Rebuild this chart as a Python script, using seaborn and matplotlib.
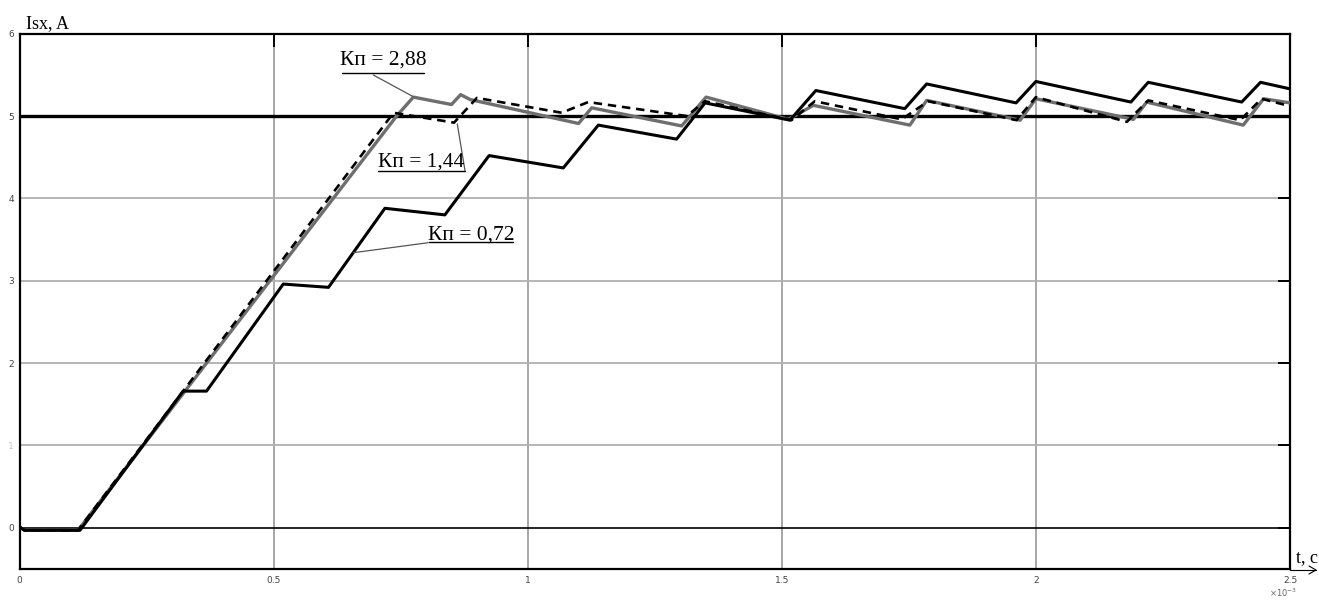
import numpy as np
import pandas as pd
import matplotlib
matplotlib.use("Agg")
import matplotlib.pyplot as plt
import seaborn as sns

# ---- data (t in units of 1e-3 s, current in A) ----
t_072 = [0.0, 0.010, 0.119, 0.322, 0.368, 0.519, 0.608, 0.719, 0.837, 0.924,
         1.070, 1.139, 1.293, 1.349, 1.516, 1.567, 1.742, 1.785, 1.961, 2.000,
         2.187, 2.221, 2.405, 2.442, 2.500]
i_072 = [0.01, -0.03, -0.03, 1.66, 1.66, 2.96, 2.92, 3.88, 3.80, 4.52,
         4.37, 4.89, 4.72, 5.16, 4.95, 5.31, 5.09, 5.39, 5.16, 5.42,
         5.17, 5.41, 5.17, 5.41, 5.33]

t_144 = [0.0, 0.010, 0.115, 0.736, 0.855, 0.900, 1.067, 1.119, 1.313, 1.349,
         1.519, 1.565, 1.736, 1.788, 1.962, 2.000, 2.179, 2.221, 2.402, 2.444,
         2.500]
i_144 = [0.01, -0.03, -0.03, 5.04, 4.92, 5.22, 5.04, 5.17, 5.00, 5.18,
         4.95, 5.18, 4.96, 5.18, 4.95, 5.23, 4.93, 5.19, 4.95, 5.21,
         5.12]

t_288 = [0.0, 0.010, 0.115, 0.742, 0.775, 0.850, 0.868, 0.887, 1.100, 1.126,
         1.303, 1.351, 1.513, 1.562, 1.752, 1.785, 1.969, 2.000, 2.192, 2.218,
         2.408, 2.448, 2.500]
i_288 = [0.01, -0.03, -0.03, 5.00, 5.23, 5.14, 5.26, 5.20, 4.91, 5.10,
         4.88, 5.23, 4.96, 5.13, 4.89, 5.19, 4.95, 5.21, 4.96, 5.17,
         4.89, 5.21, 5.16]

reference_level = 5.0
x_ticks = [0, 0.5, 1, 1.5, 2, 2.5]
x_tick_labels = ["0", "0.5", "1", "1.5", "2", "2.5"]
y_ticks = [0, 1, 2, 3, 4, 5, 6]
y_tick_labels = ["0", "1", "2", "3", "4", "5", "6"]
labels = ["Кп = 2,88", "Кп = 1,44", "Кп = 0,72"]

df = pd.concat([
    pd.DataFrame({"t": t_288, "i": i_288, "k": "2.88"}),
    pd.DataFrame({"t": t_144, "i": i_144, "k": "1.44"}),
    pd.DataFrame({"t": t_072, "i": i_072, "k": "0.72"}),
], ignore_index=True)

sns.set_style("white")
plt.rcParams["font.family"] = ["DejaVu Sans"]

fig = plt.figure(figsize=(13.19, 6.0), dpi=100)
ax = fig.add_axes([19.5 / 1319, 1 - 569 / 600, (1290 - 19.5) / 1319, (569 - 33.7) / 600])

# grid
for xv in [0.5, 1.0, 1.5, 2.0]:
    ax.axvline(xv, color="#a0a0a0", lw=1.3, zorder=0)
for yv in [1, 2, 3, 4]:
    ax.axhline(yv, color="#b0b0b0", lw=1.3, zorder=0)
ax.axhline(0, color="black", lw=1.2, zorder=1)
ax.axhline(reference_level, color="black", lw=2.4, zorder=1)

sns.lineplot(data=df[df.k == "2.88"], x="t", y="i", ax=ax, estimator=None, sort=False,
             color="#6e6e6e", lw=2.4, zorder=3)
sns.lineplot(data=df[df.k == "0.72"], x="t", y="i", ax=ax, estimator=None, sort=False,
             color="black", lw=2.2, zorder=4)
sns.lineplot(data=df[df.k == "1.44"], x="t", y="i", ax=ax, estimator=None, sort=False,
             color="black", lw=1.9, linestyle=(0, (3.2, 2.2)), zorder=5)

ax.set_xlim(0, 2.5)
ax.set_ylim(-0.5, 6)
ax.set_xlabel("")
ax.set_ylabel("")
ax.set_xticks(x_ticks)
ax.set_xticklabels(x_tick_labels)
ax.set_yticks(y_ticks)
ax.set_yticklabels(y_tick_labels)
ax.tick_params(direction="in", length=9, width=1.4, color="black",
               top=True, right=True, labelsize=6.5, labelcolor="#444444", pad=5)
ax.tick_params(axis="y", pad=4)
ax.get_yticklabels()[1].set_color("#c8c8c8")
for s in ax.spines.values():
    s.set_color("black")
    s.set_linewidth(1.6)
    s.set_visible(True)

serif = ["Liberation Serif", "DejaVu Serif"]

# annotations
def annot(text, tx, ty, ux0, ux1, uy, lx0, ly0, lx1, ly1):
    fig.text(tx / 1319, 1 - ty / 600, text, family=serif, fontsize=15.5,
             ha="center", va="center", color="black")
    fig.add_artist(plt.Line2D([ux0 / 1319, ux1 / 1319], [1 - uy / 600, 1 - uy / 600],
                              color="black", lw=1.0))
    fig.add_artist(plt.Line2D([lx0 / 1319, lx1 / 1319], [1 - ly0 / 600, 1 - ly1 / 600],
                              color="#555555", lw=0.9))

annot(labels[0], 383, 60, 341.7, 424, 72.7, 373.3, 75, 413.3, 96.7)
annot(labels[1], 421, 162, 377.7, 465, 170.7, 465, 170.7, 457.3, 124)
annot(labels[2], 471, 235, 429, 513.3, 242, 428.3, 242.7, 353.3, 252.7)

fig.text(26 / 1319, 1 - 24 / 600, "Isx, A", family=serif, fontsize=13, ha="left",
         va="center", color="black")
fig.text(1296 / 1319, 1 - 558 / 600, "t, c", family=serif, fontsize=13, ha="left",
         va="center", color="black")
fig.add_artist(plt.Line2D([1290 / 1319, 1316 / 1319], [1 - 570 / 600, 1 - 570 / 600],
                          color="black", lw=0.8))
fig.add_artist(plt.Line2D([1309 / 1319, 1316 / 1319, 1309 / 1319],
                          [1 - 566 / 600, 1 - 570 / 600, 1 - 574 / 600],
                          color="black", lw=0.8))
fig.text(1283 / 1319, 1 - 593 / 600, "×10$^{-3}$", fontsize=6, ha="center",
         va="center", color="#666666")

fig.savefig("out.png", dpi=100, facecolor="white")
